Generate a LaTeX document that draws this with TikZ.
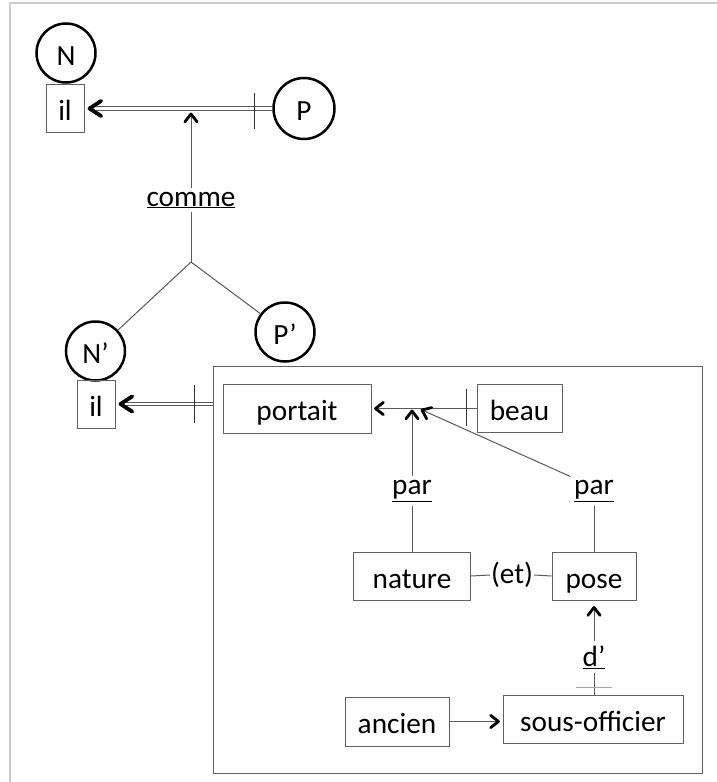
\documentclass[tikz,border=0pt]{standalone}
\usepackage{fontspec}
\setmainfont{Carlito}
\usetikzlibrary{calc}
\newcommand\smchev[2]{\draw[black, line width=2.8pt, line cap=round, line join=round] ($(#1)!10pt!38:(#2)$) -- (#1) -- ($(#1)!10pt!-38:(#2)$);}
\newcommand\bgchev[2]{\draw[black, line width=3.8pt, line cap=round, line join=round] ($(#1)!14pt!33:(#2)$) -- (#1) -- ($(#1)!14pt!-33:(#2)$);}
\begin{document}
\begin{tikzpicture}[x=1pt,y=-1pt,
  every node/.style={font=\fontsize{29.3}{34}\selectfont},
  circ/.style={circle, draw=black, line width=2.5pt, minimum size=59pt, inner sep=0pt, text height=26pt, text depth=2pt},
  wbox/.style={draw=gray!75!black, line width=1pt, inner sep=0pt, text height=26pt, text depth=2pt},
  lab/.style={inner sep=4pt},
  ln/.style={draw=gray!70!black, line width=1pt},
  tk/.style={draw=black!80, line width=1pt}
]
\useasboundingbox (0,0) rectangle (717,782);
\draw[draw=gray!40, line width=1.5pt] (717,3) -- (10,3) -- (10,782);

% top part
\node[circ] (N) at (66,53) {N};
\node[wbox, minimum width=38pt, minimum height=48pt] (il1) at (65,108.5) {il};
\node[circ, minimum size=61pt] (P) at (304,108.5) {P};
\node[lab] (comme) at (191,200) {\underline{comme}};
\coordinate (br) at (191,262);
\coordinate (t1) at (191,114);
\coordinate (a1) at ($(il1.east)+(5,0)$);

\draw[ln] ($(P.west)+(0,-1.8)$) -- ($(a1)+(2,-1.8)$);
\draw[ln] ($(P.west)+(0,1.8)$) -- ($(a1)+(2,1.8)$);
\bgchev{a1}{P}
\draw[tk] ($(P.west)+(-18,-16)$) -- ($(P.west)+(-18,20)$);
\draw[ln] (comme.north) -- (t1);
\smchev{t1}{comme}
\draw[ln] (comme.south) -- (br);

% second level
\node[circ] (N2) at (95.5,351) {N’};
\node[wbox, minimum width=38pt, minimum height=48pt] (il2) at (96,404) {il};
\node[circ] (P2) at (285,332) {P’};
\draw[ln] (br) -- (N2);
\draw[ln] (br) -- (P2);

\node[draw=gray!75!black, line width=1pt, minimum width=489pt, minimum height=407pt] (fr) at (457.5,569.5) {};
\coordinate (a2) at ($(il2.east)+(5,0)$);
\coordinate (f2) at (fr.west |- il2);
\draw[ln] ($(f2)+(0,-1.8)$) -- ($(a2)+(2,-1.8)$);
\draw[ln] ($(f2)+(0,1.8)$) -- ($(a2)+(2,1.8)$);
\bgchev{a2}{f2}
\draw[tk] ($(f2)+(-18,-19)$) -- ($(f2)+(-18,19)$);

% inner box
\node[wbox, minimum width=148pt, minimum height=49pt] (portait) at (297,408.5) {portait};
\node[wbox, minimum width=85pt, minimum height=48pt] (beau) at (519.5,408.5) {beau};
\node[lab] (par1) at (412,491) {\underline{par}};
\node[wbox, minimum width=117pt, minimum height=48pt] (nature) at (412,576) {nature};
\node[lab, inner sep=1pt] (et) at (512,575) {(et)};
\node[wbox, minimum width=84pt, minimum height=48pt] (pose) at (594,576) {pose};
\node[lab] (par2) at (594,491) {\underline{par}};
\node[lab] (d) at (594,657) {\underline{d’}};
\node[wbox, minimum width=180pt, minimum height=48pt] (so) at (593,719) {sous-officier};
\node[wbox, minimum width=104pt, minimum height=49pt] (anc) at (397,721.5) {ancien};
\coordinate (t2) at (412,411);
\coordinate (t3) at (422,410);
\coordinate (a3) at ($(beau.west -| portait.east)+(4,0)$);
\coordinate (a4) at ($(pose.south)+(0,7)$);
\coordinate (a5) at ($(anc.east -| so.west)+(-4,0)$);

\draw[ln] (beau.west) -- (a3);
\smchev{a3}{beau}
\draw[tk] ($(beau.west)+(-10,-20)$) -- ($(beau.west)+(-10,17)$);
\draw[ln] (par1.north) -- (t2);
\smchev{t2}{par1}
\draw[ln] (par1.south) -- (nature.north);
\draw[ln] (par2.north west) -- (t3);
\smchev{t3}{par2.north west}
\draw[ln] (par2.south) -- (pose.north);
\draw[ln] (nature.east) -- (et.west);
\draw[ln] (et.east) -- (pose.west);
\draw[ln] (d.north) -- (a4);
\smchev{a4}{d}
\draw[ln] (d.south) -- (d.south |- so.north);
\draw[tk, draw=gray!70, line width=1.3pt] ($(d.south |- so.north)+(-18,-7)$) -- ($(d.south |- so.north)+(18,-7)$);
\draw[ln] (anc.east) -- (a5);
\smchev{a5}{anc}
\end{tikzpicture}
\end{document}
